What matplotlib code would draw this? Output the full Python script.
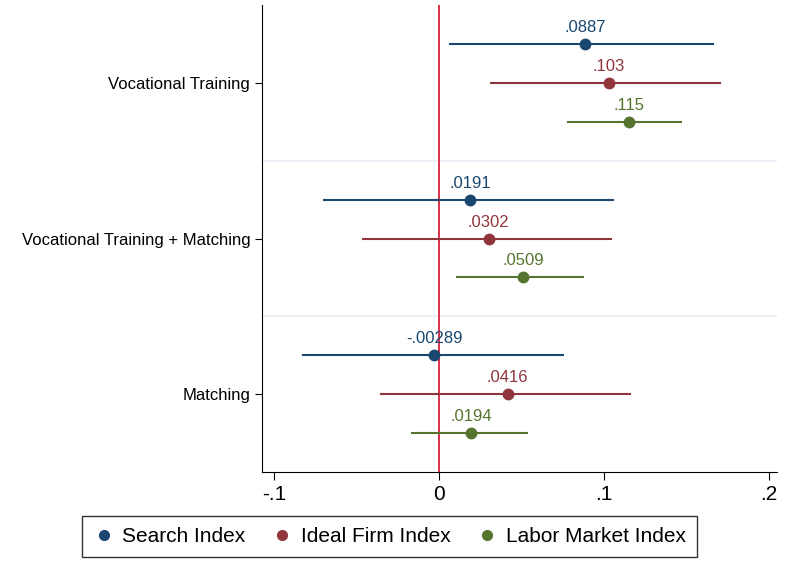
import matplotlib.pyplot as plt
from matplotlib.lines import Line2D

plt.rcParams['font.family'] = ['Liberation Sans', 'DejaVu Sans']

groups = ["Vocational Training", "Vocational Training + Matching", "Matching"]
series = ["Search Index", "Ideal Firm Index", "Labor Market Index"]
colors = ["#1a476f", "#90353b", "#55752f"]

# point estimates per series, one value per group
est = {
    "Search Index": [0.0887, 0.0191, -0.00289],
    "Ideal Firm Index": [0.103, 0.0302, 0.0416],
    "Labor Market Index": [0.115, 0.0509, 0.0194],
}
lo = {
    "Search Index": [0.0066, -0.0697, -0.0826],
    "Ideal Firm Index": [0.0313, -0.0463, -0.0354],
    "Labor Market Index": [0.0785, 0.0111, -0.0166],
}
hi = {
    "Search Index": [0.1664, 0.1057, 0.0754],
    "Ideal Firm Index": [0.1707, 0.1042, 0.1158],
    "Labor Market Index": [0.147, 0.0875, 0.0535],
}
labels = {
    "Search Index": [".0887", ".0191", "-.00289"],
    "Ideal Firm Index": [".103", ".0302", ".0416"],
    "Labor Market Index": [".115", ".0509", ".0194"],
}

offsets = [-0.25, 0, 0.25]

fig = plt.figure(figsize=(7.9, 5.69), dpi=100)
ax = fig.add_axes([0.3316, 0.1705, 0.652, 0.8205])

for k, s in enumerate(series):
    for g in range(len(groups)):
        y = g + offsets[k]
        ax.plot([lo[s][g], hi[s][g]], [y, y], color=colors[k], lw=1.5, zorder=3)
        ax.plot(est[s][g], y, 'o', color=colors[k], ms=7.5, zorder=4)
        ax.annotate(labels[s][g], (est[s][g], y), xytext=(0, 6.5), textcoords='offset points',
                    ha='center', va='bottom', color=colors[k], fontsize=12)

for b in [0.5, 1.5]:
    ax.axhline(b, color='#eaf0f5', lw=1.5, zorder=1)
ax.axvline(0, color='#d9203f', lw=1.3, zorder=2)

ax.set_xlim(-0.1073, 0.205)
ax.set_ylim(2.5, -0.5)
ax.set_xticks([-0.1, 0, 0.1, 0.2])
ax.set_xticklabels(["-.1", "0", ".1", ".2"], fontsize=15)
ax.set_yticks(range(len(groups)))
ax.set_yticklabels(groups, fontsize=12)
ax.spines['top'].set_visible(False)
ax.spines['right'].set_visible(False)
ax.tick_params(axis='x', length=6)
ax.tick_params(axis='y', length=5)

handles = [Line2D([], [], marker='o', ls='', color=c, ms=7) for c in colors]
fig.legend(handles, series, loc='center', bbox_to_anchor=(0.493, 0.0571), ncol=3,
           fontsize=15, frameon=True, fancybox=False, edgecolor='black',
           handletextpad=0.4, columnspacing=1.25, borderpad=0.55, handlelength=1.0)

fig.savefig('out.png', dpi=100)
